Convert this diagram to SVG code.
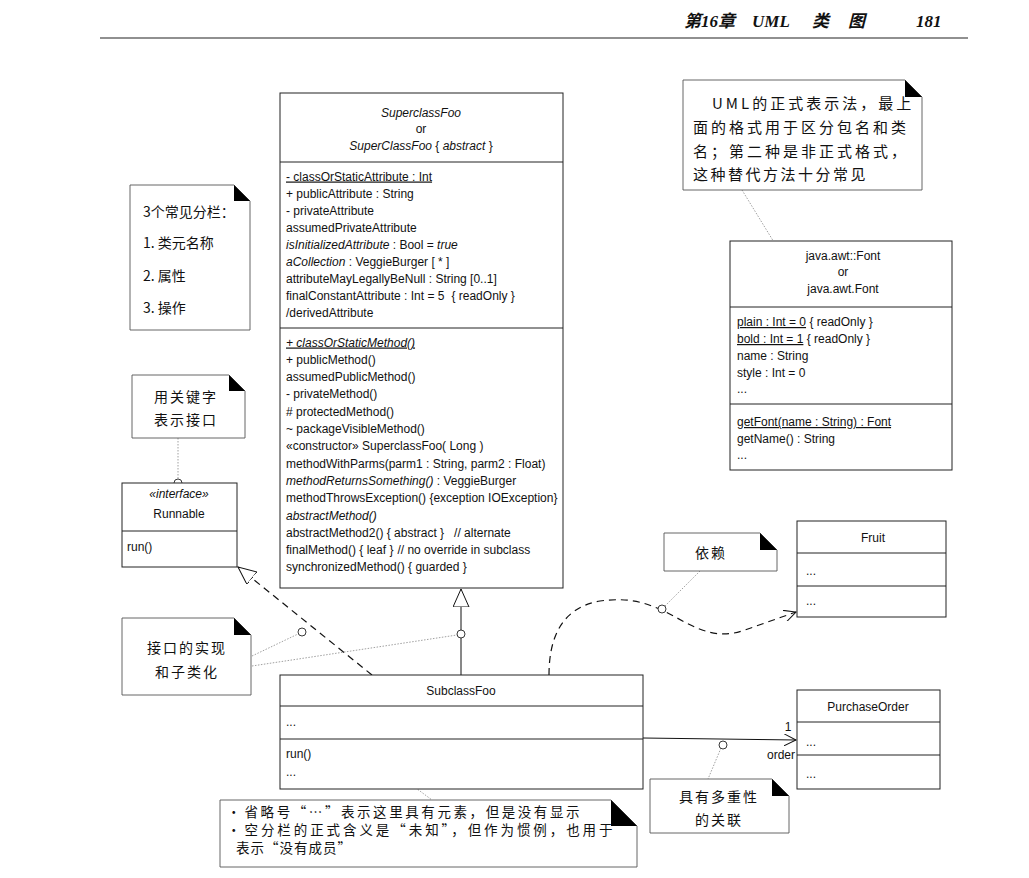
<svg xmlns="http://www.w3.org/2000/svg" width="1029" height="878" viewBox="0 0 1029 878">
<style>
.t{font-family:"Liberation Sans",Arial,sans-serif;font-size:12px;fill:#111;white-space:pre}
.c{text-anchor:middle}
.i{font-style:italic}
.u{text-decoration:underline}
.box{fill:#fff;stroke:#222;stroke-width:1}
.sep{stroke:#222;stroke-width:1}
.note{fill:#fff;stroke:#555;stroke-width:0.9}
.flap{fill:#000}
.cj{font-family:"Noto Sans CJK SC","Noto Sans CJK JP",sans-serif;font-size:14px;fill:#111}
.ls{letter-spacing:2px}
.hd{font-family:"Liberation Serif","Noto Sans CJK SC",serif;font-size:17px;font-style:italic;font-weight:bold;fill:#111}
.dot{fill:none;stroke:#888;stroke-width:0.8;stroke-dasharray:1.5,1.5}
.pin{fill:#fff;stroke:#222;stroke-width:0.9}
.dash{fill:none;stroke:#111;stroke-width:1.2;stroke-dasharray:7,5}
</style>
<defs>
<marker id="tri" markerUnits="userSpaceOnUse" markerWidth="20" markerHeight="18" refX="18" refY="8" orient="auto">
<path d="M0,0 L18,8 L0,16 Z" fill="#fff" stroke="#111" stroke-width="1"/>
</marker>
<marker id="open" markerUnits="userSpaceOnUse" markerWidth="14" markerHeight="12" refX="12" refY="6" orient="auto">
<path d="M0,0 L12,6 L0,12" fill="none" stroke="#111" stroke-width="1"/>
</marker>
</defs>
<rect width="1029" height="878" fill="#fff"/>

<g id="header">
<text x="684" y="27" class="hd">第16章</text>
<text x="752" y="27" class="hd">UML</text>
<text x="812" y="27" class="hd">类</text>
<text x="848" y="27" class="hd">图</text>
<text x="916" y="27" class="hd">181</text>
<line x1="100" y1="38" x2="968" y2="38" stroke="#222" stroke-width="1.2"/>
</g>

<g id="connectors">
<line x1="461" y1="675" x2="461" y2="589" stroke="#111" stroke-width="1" marker-end="url(#tri)"/>
<line x1="372" y1="675" x2="238" y2="567" class="dash" marker-end="url(#tri)"/>
<path d="M549,675 C549,640 560,608 600,601 C630,597 645,603 662,610 C690,624 712,642 745,630 L796,612" class="dash" marker-end="url(#open)"/>
<line x1="643" y1="738" x2="796" y2="740" stroke="#111" stroke-width="1" marker-end="url(#open)"/>
<text x="788" y="731" class="t c">1</text>
<text x="795" y="759" class="t" text-anchor="end">order</text>
<line x1="178" y1="438" x2="178" y2="479" class="dot"/>
<line x1="742" y1="190" x2="780" y2="252" class="dot"/>
<line x1="252" y1="656" x2="298" y2="634" class="dot"/>
<line x1="252" y1="666" x2="457" y2="635" class="dot"/>
<line x1="700" y1="571" x2="665" y2="606" class="dot"/>
<line x1="331" y1="725" x2="432" y2="800" class="dot"/>
<line x1="721" y1="748" x2="708" y2="779" class="dot"/>
<circle cx="178" cy="483" r="4" class="pin"/>
<circle cx="783" cy="255" r="3.5" class="pin"/>
<circle cx="302" cy="632" r="4" class="pin"/>
<circle cx="461" cy="634" r="4" class="pin"/>
<circle cx="662" cy="609" r="4" class="pin"/>
<circle cx="327" cy="722" r="4" class="pin"/>
<circle cx="723" cy="745" r="4" class="pin"/>
</g>

<g id="SuperclassFoo">
<rect x="280" y="93" width="283" height="495" class="box"/>
<line x1="280" y1="162" x2="563" y2="162" class="sep"/>
<line x1="280" y1="328" x2="563" y2="328" class="sep"/>
<text x="421" y="117" class="t c i">SuperclassFoo</text>
<text x="421" y="133" class="t c">or</text>
<text x="421" y="150" class="t c"><tspan class="i">SuperClassFoo</tspan> { <tspan class="i">abstract</tspan> }</text>
<text x="286" y="180.5" class="t u">- classOrStaticAttribute : Int</text>
<text x="286" y="197.6" class="t">+ publicAttribute : String</text>
<text x="286" y="214.7" class="t">- privateAttribute</text>
<text x="286" y="231.8" class="t">assumedPrivateAttribute</text>
<text x="286" y="248.9" class="t"><tspan class="i">isInitializedAttribute</tspan> : Bool = <tspan class="i">true</tspan></text>
<text x="286" y="266" class="t"><tspan class="i">aCollection</tspan> : VeggieBurger [ * ]</text>
<text x="286" y="283.1" class="t">attributeMayLegallyBeNull : String [0..1]</text>
<text x="286" y="300.2" class="t">finalConstantAttribute : Int = 5<tspan dx="7">{ readOnly }</tspan></text>
<text x="286" y="317.3" class="t">/derivedAttribute</text>
<text x="286" y="346.5" class="t u i">+ classOrStaticMethod()</text>
<text x="286" y="363.8" class="t">+ publicMethod()</text>
<text x="286" y="381.1" class="t">assumedPublicMethod()</text>
<text x="286" y="398.4" class="t">- privateMethod()</text>
<text x="286" y="415.7" class="t"># protectedMethod()</text>
<text x="286" y="433" class="t">~ packageVisibleMethod()</text>
<text x="286" y="450.3" class="t">«constructor» SuperclassFoo( Long )</text>
<text x="286" y="467.6" class="t">methodWithParms(parm1 : String, parm2 : Float)</text>
<text x="286" y="484.9" class="t"><tspan class="i">methodReturnsSomething()</tspan> : VeggieBurger</text>
<text x="286" y="502.2" class="t">methodThrowsException() {exception IOException}</text>
<text x="286" y="519.5" class="t i">abstractMethod()</text>
<text x="286" y="536.8" class="t">abstractMethod2() { abstract }<tspan dx="10">// alternate</tspan></text>
<text x="286" y="554.1" class="t">finalMethod() { leaf }<tspan dx="4">// no override in subclass</tspan></text>
<text x="286" y="571.4" class="t">synchronizedMethod() { guarded }</text>
</g>

<g id="Runnable">
<rect x="122" y="483" width="115" height="84" class="box"/>
<line x1="122" y1="531" x2="237" y2="531" class="sep"/>
<text x="179" y="498" class="t c i">«interface»</text>
<text x="179" y="518" class="t c">Runnable</text>
<text x="127" y="551" class="t">run()</text>
</g>

<g id="Font">
<rect x="730" y="241" width="222" height="229" class="box"/>
<line x1="730" y1="307" x2="952" y2="307" class="sep"/>
<line x1="730" y1="404" x2="952" y2="404" class="sep"/>
<text x="843" y="260" class="t c">java.awt::Font</text>
<text x="843" y="276" class="t c">or</text>
<text x="843" y="293" class="t c">java.awt.Font</text>
<text x="737" y="326" class="t"><tspan class="u">plain : Int = 0</tspan> { readOnly }</text>
<text x="737" y="343" class="t"><tspan class="u">bold : Int = 1</tspan> { readOnly }</text>
<text x="737" y="360" class="t">name : String</text>
<text x="737" y="377" class="t">style : Int = 0</text>
<text x="737" y="393" class="t">...</text>
<text x="737" y="426" class="t u">getFont(name : String) : Font</text>
<text x="737" y="443" class="t">getName() : String</text>
<text x="737" y="459" class="t">...</text>
</g>

<g id="Fruit">
<rect x="797" y="521" width="149" height="96" class="box"/>
<line x1="797" y1="553" x2="946" y2="553" class="sep"/>
<line x1="797" y1="586" x2="946" y2="586" class="sep"/>
<text x="873" y="542" class="t c">Fruit</text>
<text x="806" y="575" class="t">...</text>
<text x="806" y="605" class="t">...</text>
</g>

<g id="SubclassFoo">
<rect x="280" y="675" width="363" height="114" class="box"/>
<line x1="280" y1="706" x2="643" y2="706" class="sep"/>
<line x1="280" y1="739" x2="643" y2="739" class="sep"/>
<text x="461" y="695" class="t c">SubclassFoo</text>
<text x="286" y="726" class="t">...</text>
<text x="286" y="758" class="t">run()</text>
<text x="286" y="776" class="t">...</text>
</g>

<g id="PurchaseOrder">
<rect x="797" y="690" width="143" height="99" class="box"/>
<line x1="797" y1="722" x2="940" y2="722" class="sep"/>
<line x1="797" y1="755" x2="940" y2="755" class="sep"/>
<text x="868" y="711" class="t c">PurchaseOrder</text>
<text x="806" y="746" class="t">...</text>
<text x="806" y="778" class="t">...</text>
</g>

<g id="note-compartments">
<path d="M130,185 H234 L250,201 V330 H130 Z" class="note"/>
<path d="M234,185 V201 H250 Z" class="flap"/>
<text x="143" y="217" class="cj">3个常见分栏：</text>
<text x="143" y="248" class="cj">1. 类元名称</text>
<text x="143" y="281" class="cj">2. 属性</text>
<text x="143" y="313" class="cj">3. 操作</text>
</g>

<g id="note-keyword">
<path d="M132,375 H229 L245,391 V438 H132 Z" class="note"/>
<path d="M229,375 V391 H245 Z" class="flap"/>
<text x="186" y="402" class="cj c ls">用关键字</text>
<text x="186" y="425" class="cj c ls">表示接口</text>
</g>

<g id="note-formal">
<path d="M683,80 H905 L922,97 V190 H683 Z" class="note"/>
<path d="M905,80 V97 H922 Z" class="flap"/>
<text x="712" y="109" class="cj" style="font-size:15px;letter-spacing:3px">UML的正式表示法，最上</text>
<text x="693" y="133" class="cj" style="font-size:15px;letter-spacing:3px">面的格式用于区分包名和类</text>
<text x="693" y="157" class="cj" style="font-size:15px;letter-spacing:3px">名；第二种是非正式格式，</text>
<text x="693" y="180" class="cj" style="font-size:15px;letter-spacing:2.5px">这种替代方法十分常见</text>
</g>

<g id="note-realization">
<path d="M122,618 H234 L251,635 V695 H122 Z" class="note"/>
<path d="M234,618 V635 H251 Z" class="flap"/>
<text x="187" y="653" class="cj c ls">接口的实现</text>
<text x="187" y="677" class="cj c ls">和子类化</text>
</g>

<g id="note-dependency">
<path d="M664,533 H760 L777,550 V571 H664 Z" class="note"/>
<path d="M760,533 V550 H777 Z" class="flap"/>
<text x="711" y="558" class="cj c ls">依赖</text>
</g>

<g id="note-ellipsis">
<path d="M220,800 H611 L637,826 V867 H220 Z" class="note"/>
<path d="M611,800 V826 H637 Z" class="flap"/>
<text x="227" y="817" class="cj" style="font-size:13.5px">•<tspan dx="4" textLength="335" lengthAdjust="spacing">省略号“…”表示这里具有元素，但是没有显示</tspan></text>
<text x="227" y="835" class="cj" style="font-size:13.5px">•<tspan dx="4" textLength="368" lengthAdjust="spacing">空分栏的正式含义是“未知”，但作为惯例，也用于</tspan></text>
<text x="236" y="853" class="cj" style="font-size:13.5px;letter-spacing:1px">表示“没有成员”</text>
</g>

<g id="note-association">
<path d="M650,779 H772 L789,796 V833 H650 Z" class="note"/>
<path d="M772,779 V796 H789 Z" class="flap"/>
<text x="719" y="802" class="cj c ls">具有多重性</text>
<text x="719" y="825" class="cj c ls">的关联</text>
</g>
</svg>
